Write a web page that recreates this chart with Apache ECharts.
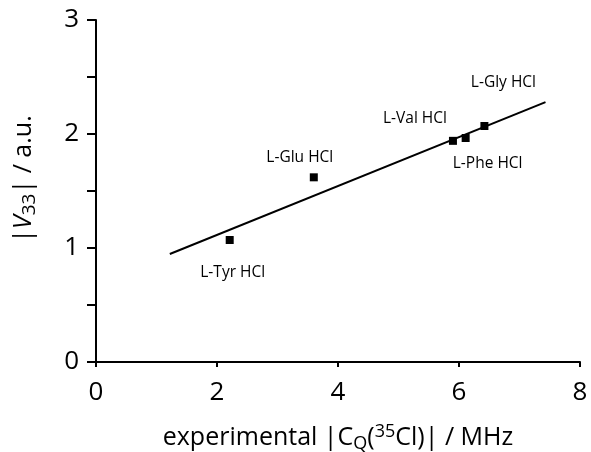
<!DOCTYPE html>
<html>
<head>
<meta charset="utf-8">
<script src="https://cdn.jsdelivr.net/npm/echarts@6/dist/echarts.min.js"></script>
<style>html,body{margin:0;padding:0;background:#fff}#c{width:591px;height:452px}</style>
</head>
<body>
<div id="c"></div>
<script>
// Data
var names = ['L-Tyr HCl', 'L-Glu HCl', 'L-Val HCl', 'L-Phe HCl', 'L-Gly HCl'];
var cqValues = [2.21, 3.60, 5.90, 6.11, 6.42];      // experimental |CQ(35Cl)| / MHz
var v33Values = [1.07, 1.62, 1.94, 1.965, 2.07];    // |V33| / a.u.
var fitX = [1.22, 7.43];
var fitY = [0.947, 2.28];
var xTicks = [0, 2, 4, 6, 8];
var yTicks = [0, 1, 2, 3];

// label placement (styling, in px relative to point)
var labelOffsets = [[3, 33], [-14, -20], [-38, -22], [22, 26], [19, -43]];

var FONT = '"Open Sans", "Noto Sans", sans-serif';
var chart = echarts.init(document.getElementById('c'), null, {renderer: 'canvas'});

var scatterData = names.map(function (n, i) {
  return {
    value: [cqValues[i], v33Values[i]],
    name: n,
    label: {
      show: true, position: 'inside', offset: labelOffsets[i],
      formatter: n, color: '#000', fontSize: 15.5, fontFamily: FONT
    }
  };
});
var lineData = fitX.map(function (x, i) { return [x, fitY[i]]; });

var axisLineStyle = {color: '#000', width: 2};

chart.setOption({
  backgroundColor: '#fff',
  animation: false,
  grid: {left: 96, right: 11, top: 20, bottom: 90, containLabel: false, outerBoundsMode: 'none'},
  xAxis: {
    type: 'value', min: 0, max: 8, interval: 2,
    axisLine: {show: true, onZero: false, lineStyle: axisLineStyle},
    axisTick: {show: true, inside: false, length: 5, lineStyle: {color: '#000', width: 2}},
    splitLine: {show: false},
    axisLabel: {
      color: '#000', fontSize: 26, fontFamily: FONT, margin: 18,
      formatter: function (v) { return xTicks.indexOf(v) >= 0 ? String(v) : ''; }
    },
    name: '{t|experimental |C}{sub|Q}{t|(}{sup|35}{t|Cl)| / MHz}',
    nameLocation: 'middle', nameGap: 60,
    nameTextStyle: {
      color: '#000', fontFamily: FONT,
      rich: {
        t: {fontSize: 25, fontFamily: FONT, color: '#000', lineHeight: 32},
        sub: {fontSize: 18, fontFamily: FONT, color: '#000', padding: [12, 0, 0, 0]},
        sup: {fontSize: 18, fontFamily: FONT, color: '#000', padding: [0, 0, 12, 0]}
      }
    }
  },
  yAxis: {
    type: 'value', min: 0, max: 3, interval: 0.5,
    axisLine: {show: true, onZero: false, lineStyle: axisLineStyle},
    axisTick: {show: true, inside: false, length: 9, lineStyle: {color: '#000', width: 2}},
    splitLine: {show: false},
    axisLabel: {
      color: '#000', fontSize: 26, fontFamily: FONT, margin: 17, padding: [6, 0, 0, 0],
      formatter: function (v) { return yTicks.indexOf(v) >= 0 ? String(v) : ''; }
    },
    name: '{t||}{it|V}{sub|33}{t|| / a.u.}',
    nameLocation: 'middle', nameGap: 56,
    nameTextStyle: {
      color: '#000', fontFamily: FONT, padding: [0, 0, 0, 24],
      rich: {
        t: {fontSize: 25, fontFamily: FONT, color: '#000', lineHeight: 32},
        it: {fontSize: 25, fontFamily: FONT, fontStyle: 'italic', color: '#000', lineHeight: 32},
        sub: {fontSize: 19, fontFamily: FONT, color: '#000', padding: [12, 0, 0, 0]}
      }
    }
  },
  series: [
    {
      type: 'line', data: lineData, showSymbol: false, symbol: 'none',
      lineStyle: {color: '#000', width: 2}, silent: true, z: 2
    },
    {
      type: 'scatter', data: scatterData, symbol: 'rect', symbolSize: 8,
      itemStyle: {color: '#000', opacity: 1}, z: 3
    }
  ]
});
</script>
</body>
</html>
